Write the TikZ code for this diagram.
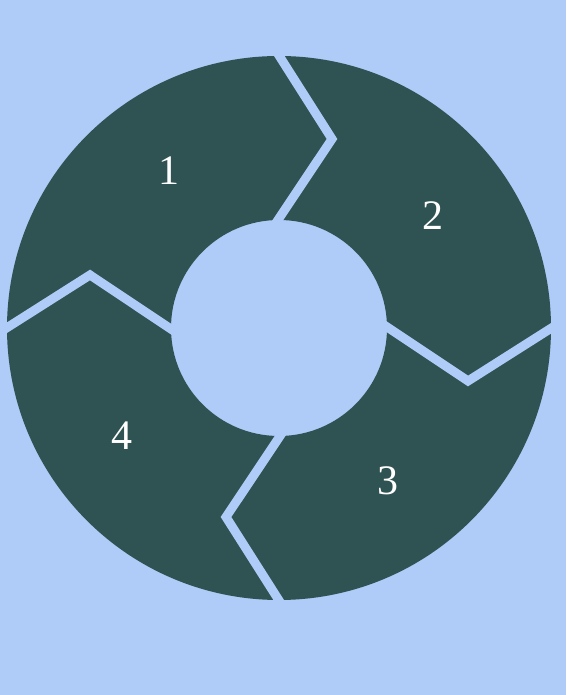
\documentclass[tikz,border=0pt]{standalone}
\usepackage{xcolor}
\usepackage{fontspec}
\setmainfont{Liberation Serif}
\definecolor{bgblue}{RGB}{175,203,248}
\definecolor{ringgreen}{RGB}{47,82,82}

\begin{document}
\begin{tikzpicture}[x=1pt,y=1pt,
    ring/.style={fill=ringgreen, even odd rule},
    gap/.style={draw=bgblue, line width=9pt, line join=miter},
    num/.style={text=white, inner sep=0pt, font=\fontsize{42}{42}\selectfont}]
  \fill[bgblue] (0,0) rectangle (566,695);
  \useasboundingbox (0,0) rectangle (566,695);
  \begin{scope}[shift={(279,367)}]
    \coordinate (c) at (0,0);
    % ring
    \fill[ring] (c) circle (272) (c) circle (108);
    % chevron gaps between the four parts
    \foreach \a in {0,-90,-180,-270}
      \draw[gap, rotate=\a] (-5.4,281) -- (53,189) -- (-7.7,98);
    \node[num] (n1) at (-110,157) {1};
    \node[num] (n2) at (154,112)  {2};
    \node[num] (n3) at (109,-153) {3};
    \node[num] (n4) at (-157,-108) {4};
  \end{scope}
\end{tikzpicture}
\end{document}
